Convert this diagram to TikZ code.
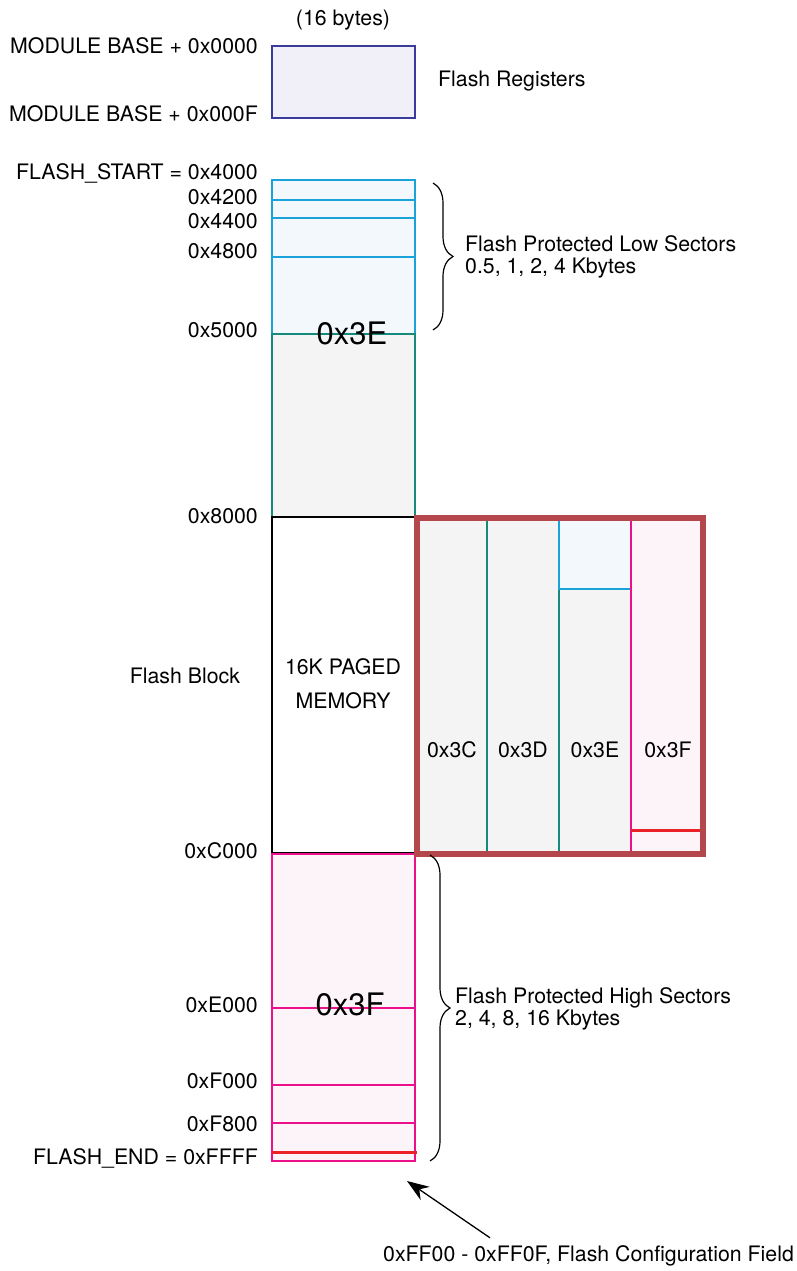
\documentclass[tikz,border=0pt]{standalone}
\usepackage{fontspec}
\setmainfont{TeX Gyre Heros}
\usepackage{tikz}
\usetikzlibrary{arrows.meta, positioning, decorations.pathreplacing}
\definecolor{regline}{HTML}{3B3B9B}
\definecolor{regfill}{HTML}{F1F0F8}
\definecolor{lowline}{HTML}{1AA3DA}
\definecolor{lowfill}{HTML}{F3F8FC}
\definecolor{midline}{HTML}{15897A}
\definecolor{midfill}{HTML}{F3F4F3}
\definecolor{highline}{HTML}{EC0F8C}
\definecolor{highfill}{HTML}{FDF4F9}
\definecolor{cfgred}{HTML}{EA2228}
\definecolor{winframe}{HTML}{B3474C}
\newcommand{\mapfont}{\fontsize{21.3}{22}\selectfont}
\newcommand{\bankfont}{\fontsize{31}{34}\selectfont}

\begin{document}
\begin{tikzpicture}[x=1pt, y=-1pt, >=Stealth,
  lbl/.style={font=\mapfont, inner sep=0pt, text height=15pt, text depth=0pt},
  addr/.style={lbl, anchor=east},
  note/.style={font=\mapfont, inner sep=0pt, anchor=west, align=left},
  bank/.style={font=\bankfont, inner sep=0pt, text height=22pt, text depth=0pt},
  cell/.style={line width=1.3pt},
  brc/.style={decorate, decoration={brace, amplitude=20pt}, line width=1.2pt}]
  \useasboundingbox (0,0) rectangle (796,1271);

  % Registry
  \filldraw[cell, draw=regline, fill=regfill] (272,46) rectangle (415,118);
  \node[lbl] (bytes) at (343,18) {(16 bytes)};
  \node[addr] (modbase) at (258,46) {MODULE BASE + 0x0000};
  \node[addr] (modend) at (258,114) {MODULE BASE + 0x000F};
  \node[lbl, anchor=west] (regs) at (438,79) {Flash Registers};

  % Low sectors + unpaged 0x3E
  \filldraw[cell, draw=lowline, fill=lowfill] (272,180) rectangle (415,334);
  \foreach \y in {200,218,257} \draw[cell, lowline] (272,\y) -- (415,\y);
  \filldraw[cell, draw=midline, fill=midfill] (272,334) rectangle (415,517);
  \node[bank] (bankE) at (352,333) {0x3E};

  % Paged window
  \filldraw[cell, draw=black, fill=white] (272,517) rectangle (415,853);
  \node[lbl] (paged) at (343,667) {16K PAGED};
  \node[lbl] (pagedmem) at (343,701) {MEMORY};
  \node[lbl] (block) at (185,676) {Flash Block};

  % High sectors + unpaged 0x3F
  \filldraw[cell, draw=highline, fill=highfill] (272,854) rectangle (415,1161);
  \foreach \y in {1008,1085,1123} \draw[cell, highline] (272,\y) -- (415,\y);
  \draw[line width=3pt, cfgred] (272,1152) -- (417,1152);
  \node[bank] (bankF) at (350,1004) {0x3F};

  % Pages 0x3C..0x3F
  \fill[midfill] (417,518) rectangle (631,854);
  \fill[lowfill] (559,518) rectangle (631,589);
  \fill[highfill] (631,518) rectangle (703,854);
  \draw[cell, midline] (487,518) -- (487,854);
  \draw[cell, midline] (559,589) -- (559,854);
  \draw[cell, lowline] (559,518) -- (559,589) -- (631,589);
  \draw[cell, highline] (631,518) -- (631,854);
  \draw[line width=3pt, cfgred] (631,830) -- (703,830);
  \draw[line width=5.5pt, winframe] (417,518) rectangle (703,854);
  \node[lbl] (page3C) at (452,750) {0x3C};
  \node[lbl] (page3D) at (523,750) {0x3D};
  \node[lbl] (page3E) at (595,750) {0x3E};
  \node[lbl] (page3F) at (668,750) {0x3F};

  % Adresy
  \node[addr] (fstart) at (258,172) {FLASH\_START = 0x4000};
  \node[addr] (a4200) at (258,197) {0x4200};
  \node[addr] (a4400) at (258,221) {0x4400};
  \node[addr] (a4800) at (258,251) {0x4800};
  \node[addr] (a5000) at (258,330) {0x5000};
  \node[addr] (a8000) at (258,516) {0x8000};
  \node[addr] (aC000) at (258,851) {0xC000};
  \node[addr] (aE000) at (258,1005) {0xE000};
  \node[addr] (aF000) at (258,1081) {0xF000};
  \node[addr] (aF800) at (258,1124) {0xF800};
  \node[addr] (fend) at (258,1157) {FLASH\_END = 0xFFFF};

  % Chranene sektory
  \coordinate (lowtop) at (433,183);
  \coordinate (lowbot) at (433,330);
  \draw[brc] (lowtop) -- (lowbot);
  \node[note] (lownote) at (465,257) {Flash Protected Low Sectors\\0.5, 1, 2, 4 Kbytes};
  \coordinate (hightop) at (430,855);
  \coordinate (highbot) at (430,1161);
  \draw[brc] (hightop) -- (highbot);
  \node[note] (highnote) at (455,1009) {Flash Protected High Sectors\\2, 4, 8, 16 Kbytes};

  % Konfiguracni pole
  \node[lbl, anchor=west] (cfgfield) at (383,1254) {0xFF00 - 0xFF0F, Flash Configuration Field};
  \coordinate (cfgtip) at (407,1181);
  \draw[->, line width=1.3pt, >={Stealth[length=22pt, width=16pt]}]
    ([shift={(107,-8.5)}]cfgfield.north west) -- (cfgtip);
\end{tikzpicture}
\end{document}
